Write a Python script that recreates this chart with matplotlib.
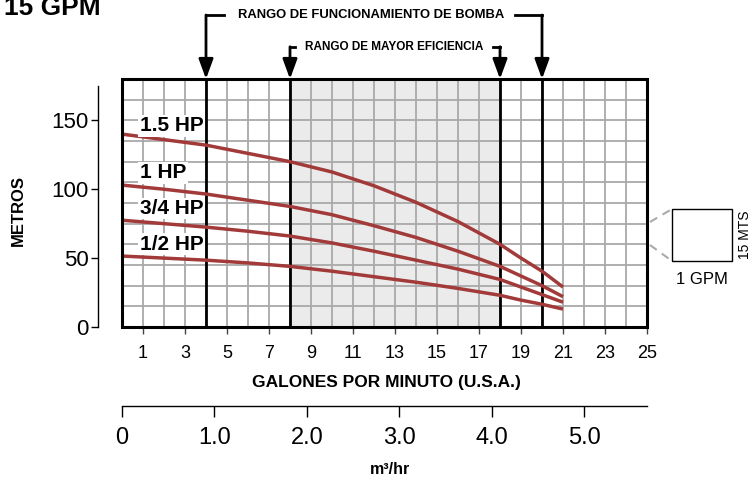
import matplotlib.pyplot as plt
from matplotlib.patches import Rectangle
from matplotlib.lines import Line2D

plt.rcParams['font.family'] = ['Liberation Sans', 'DejaVu Sans']

# head (m) vs flow (GPM) for each motor size
gpm = [0, 2, 4, 6, 8, 10, 12, 14, 16, 18, 19, 20, 21]
head_15hp = [140, 136, 132, 126, 120, 112.5, 102.5, 90.5, 76.5, 60, 50, 40.5, 29]
head_1hp = [103, 100, 96.5, 92, 87.5, 81.5, 73.5, 65, 55, 44, 37, 30, 22]
head_34hp = [77.5, 75, 72.5, 69.5, 66, 61, 55, 48.5, 42, 34.5, 29, 23.5, 18]
head_12hp = [51.5, 50, 48.5, 46.5, 44, 40.5, 36.5, 32.5, 28, 23, 19.5, 16.5, 13]
curve_labels = ["1.5 HP", "1 HP", "3/4 HP", "1/2 HP"]
label_heads = [146, 112, 86, 60]

pump_range = (4, 20)
best_range = (8, 18)

gpm_ticks = list(range(1, 26, 2))
m3h_ticks = [0, 1, 2, 3, 4, 5]
m3h_labels = ["0", "1.0", "2.0", "3.0", "4.0", "5.0"]
GPM_PER_M3H = 4.403

curve_color = "#a23a3a"
grid_color = "#a9a9a9"

fig = plt.figure(figsize=(7.54, 4.82), dpi=100)
ax = fig.add_axes([0.1618, 0.3216, 0.6963, 0.5145])
ax.set_xlim(0, 25)
ax.set_ylim(0, 180)

# shaded best-efficiency band and grid
ax.axvspan(*best_range, color="#ebebeb", lw=0, zorder=0)
for x in range(1, 25):
    ax.axvline(x, color=grid_color, lw=1.3, zorder=1)
for y in range(15, 180, 15):
    ax.axhline(y, color=grid_color, lw=1.3, zorder=1)
for x in [pump_range[0], best_range[0], best_range[1], pump_range[1]]:
    ax.axvline(x, color="black", lw=2, zorder=3)

for heads in [head_15hp, head_1hp, head_34hp, head_12hp]:
    ax.plot(gpm, heads, color=curve_color, lw=2.5, zorder=4, solid_capstyle="butt")

for txt, y in zip(curve_labels, label_heads):
    ax.text(0.85, y, txt, fontsize=15, fontweight="bold", va="center", zorder=5,
            bbox=dict(fc="white", ec="none", pad=1))

# frame
ax.add_patch(Rectangle((0, 0), 1, 1, transform=ax.transAxes, fill=False,
                       ec="black", lw=2.2, zorder=6, clip_on=False))

for side in ["top", "right", "bottom"]:
    ax.spines[side].set_visible(False)
ax.spines["left"].set_position(("outward", 17))
ax.spines["left"].set_bounds(0, 175)
ax.spines["left"].set_linewidth(1)

ax.set_yticks([0, 50, 100, 150])
ax.tick_params(axis="y", length=5, width=1, labelsize=16, pad=2)
ax.set_xticks(gpm_ticks)
ax.tick_params(axis="x", length=5, width=1, color="#444444", labelsize=13, pad=8)

# range brackets above the chart
def bracket(x0, x1, y, text, text_x, gap0, gap1, size):
    for x, xe in [(x0, gap0), (x1, gap1)]:
        ax.plot([x, xe], [y, y], color="black", lw=2, clip_on=False,
                transform=ax.get_xaxis_transform(), solid_capstyle="projecting")
        ax.annotate("", xy=(x, 1.0), xytext=(x, y),
                    xycoords=("data", "axes fraction"), textcoords=("data", "axes fraction"),
                    arrowprops=dict(arrowstyle="-|>,head_length=0.6,head_width=0.22",
                                    mutation_scale=20, color="black", lw=2,
                                    shrinkA=0, shrinkB=0))
    ax.text(text_x, y, text, transform=ax.get_xaxis_transform(), ha="center", va="center",
            fontsize=size, fontweight="bold")

bracket(pump_range[0], pump_range[1], 1.258, "RANGO DE FUNCIONAMIENTO DE BOMBA",
        11.85, 4.86, 18.71, 9.4)
bracket(best_range[0], best_range[1], 1.13, "RANGO DE MAYOR EFICIENCIA",
        12.95, 8.25, 17.65, 8.5)

# second flow scale in m3/hr
ax2 = fig.add_axes([0.1618, 1 - 406 / 482, 0.6963, 0.001])
ax2.set_xlim(0, 25 / GPM_PER_M3H)
ax2.set_yticks([])
ax2.patch.set_visible(False)
for side in ["top", "right", "left"]:
    ax2.spines[side].set_visible(False)
ax2.spines["bottom"].set_linewidth(1)
ax2.set_xticks(m3h_ticks)
ax2.set_xticklabels(m3h_labels)
ax2.tick_params(axis="x", length=8, width=1, labelsize=17, pad=7)

fig.text(0.005, 1 - 15 / 482, "15 GPM", fontsize=19, fontweight="bold", va="baseline")
fig.text(18 / 754, 1 - 211 / 482, "METROS", rotation=90, fontsize=12, fontweight="bold",
         ha="center", va="center")
fig.text(386 / 754, 1 - 382 / 482, "GALONES POR MINUTO (U.S.A.)", fontsize=12.5,
         fontweight="bold", ha="center", va="center")
fig.text(390 / 754, 1 - 470 / 482, "m³/hr", fontsize=11.5, fontweight="bold",
         ha="center", va="center")

# one grid cell, enlarged
fig.add_artist(Rectangle((672 / 754, 1 - 261 / 482), 60 / 754, 52 / 482,
                         transform=fig.transFigure, fill=False, ec="black", lw=1))
for y0, y1 in [(222, 209), (245, 261)]:
    fig.add_artist(Line2D([650 / 754, 672 / 754], [1 - y0 / 482, 1 - y1 / 482],
                          transform=fig.transFigure, color="#aaaaaa", lw=1.5,
                          ls=(0, (4, 3))))
fig.text(702 / 754, 1 - 280 / 482, "1 GPM", fontsize=12, ha="center", va="center")
fig.text(745 / 754, 1 - 235 / 482, "15 MTS", fontsize=10, rotation=90, ha="center", va="center")

fig.savefig("out.png", dpi=100)
